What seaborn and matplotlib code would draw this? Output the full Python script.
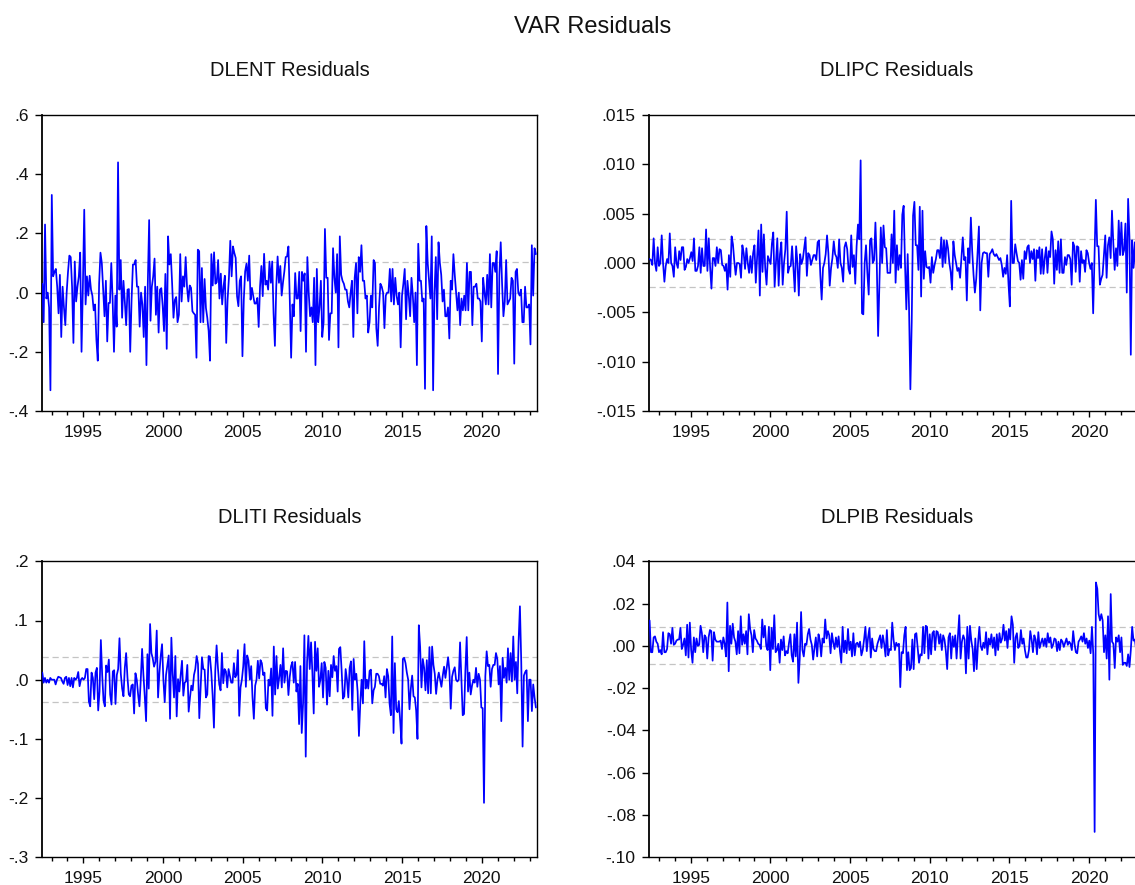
import numpy as np
import pandas as pd
import matplotlib
matplotlib.use("Agg")
import matplotlib.pyplot as plt
from matplotlib.ticker import FixedLocator, FuncFormatter
import seaborn as sns

# ---------------- data ----------------
TITLE = "VAR Residuals"
NAMES = ["DLENT", "DLIPC", "DLITI", "DLPIB"]

# monthly residuals, sample starting 1992M06
SAMPLE_START = 1992.42
END_FULL = 2023.40      # last observation shown in the left panels
END_VISIBLE = 2022.96   # right panels are cut by the picture edge

dlent = [
    0.03, -0.10, 0.23, -0.02, 0.00, -0.05, -0.33, 0.33, 0.055, 0.07, 0.08,
    0.02, -0.07, 0.06, -0.15, 0.02, -0.05, -0.11, 0.00, 0.07, 0.125,
    0.12, 0.02, -0.17, 0.105, -0.03, 0.02, 0.055, 0.135, -0.20, 0.02,
    0.28, -0.04, 0.055, -0.01, 0.057, 0.01, -0.01, -0.06, -0.04, -0.16,
    -0.23, 0.03, 0.135, 0.10, 0.01, -0.08, 0.04, -0.165, -0.035, -0.035,
    0.10, -0.025, -0.20, -0.01, -0.115, 0.44, 0.01, 0.11, -0.085, 0.04,
    -0.03, -0.11, 0.01, 0.012, -0.20, -0.025, 0.095, 0.095, 0.11, 0.02,
    0.02, -0.115, 0.00, -0.04, -0.15, 0.02, -0.245, 0.03, 0.245, -0.095,
    0.02, 0.055, 0.115, -0.075, 0.02, -0.135, 0.01, 0.015, -0.045, -0.13,
    0.063, -0.19, 0.19, 0.095,
    0.13, 0.03, -0.085, -0.025, -0.015, -0.10, -0.075, 0.13, -0.03, 0.055,
    0.02, 0.12, 0.02, -0.03, 0.024, 0.016, -0.063, -0.07, -0.075, -0.22,
    0.145, 0.14, -0.10, 0.083, -0.10, 0.046, -0.052, -0.085, -0.13, -0.23,
    0.13, 0.024, 0.136, 0.03, 0.035, 0.11, -0.02, 0.064, -0.04, 0.02,
    0.057, -0.17, -0.025, 0.05, 0.175, 0.055, 0.156, 0.134, 0.117, -0.012,
    -0.046, 0.04, 0.055, -0.215, -0.024, 0.072, 0.098, 0.04, 0.125, -0.024,
    0.016, -0.012, -0.037, -0.037, -0.018, -0.116, 0.02, 0.09, -0.012, 0.131,
    0.027, 0.04, 0.01, 0.105, 0.033, 0.105, -0.07, -0.18, 0.021, 0.122,
    0.033, 0.09, -0.01, 0.035, 0.072, 0.12, 0.122, 0.156, -0.024, -0.22,
    -0.04, -0.08, 0.066,
    -0.02, -0.02, 0.07, -0.13, 0.07, 0.04, 0.065,
    -0.20, 0.12, 0.00, -0.08, -0.05, -0.10, 0.05, -0.245, 0.08, -0.10,
    -0.05, 0.04, -0.15, -0.10, 0.215, 0.05, 0.05, -0.16, -0.07, -0.07,
    0.15, 0.05, 0.00, 0.13, -0.185, 0.19, 0.06, 0.04, 0.03, 0.01,
    0.01, -0.03, -0.05, 0.00, 0.04, -0.15, 0.05, 0.10, -0.07, 0.12,
    0.07, 0.16, 0.04, 0.04, -0.02, -0.01, -0.135, -0.10, -0.01, -0.05,
    0.11, 0.10, -0.12, -0.18, -0.05, 0.03, 0.02, 0.00, -0.12, -0.01,
    0.00, 0.00, 0.08, -0.03, 0.08, -0.04, 0.05, -0.01, -0.04, 0.00,
    -0.185, -0.01, 0.03, 0.08, -0.09, 0.04, -0.01, -0.08, 0.05, -0.01,
    -0.10, 0.00, -0.245, 0.165, 0.04, 0.04, -0.03, -0.02, -0.325, 0.225,
    0.10, 0.04, -0.02, 0.19, -0.33, 0.00, 0.12, -0.09, 0.17, 0.10,
    0.06, -0.03, 0.01, -0.08, -0.08, -0.05, -0.155, 0.04, 0.01, 0.13,
    0.06, 0.00, -0.06, 0.00, -0.11, -0.02, -0.06, -0.01, -0.06, 0.10,
    -0.06, 0.07, 0.07, -0.11, 0.02, 0.02, 0.03, -0.02, -0.02, -0.03,
    -0.165, 0.05, 0.00, -0.04, 0.06, -0.04, 0.13, -0.05, 0.10, 0.10,
    0.07, 0.14, -0.275, 0.06, 0.17, 0.03, -0.08, -0.03, 0.11, -0.04,
    -0.03, -0.02, 0.05, 0.04, -0.24, 0.07, 0.08, 0.00, -0.01, 0.01,
    -0.10, -0.10, 0.02, -0.05, -0.05, -0.04, -0.175, 0.16, -0.01, 0.15,
    0.13,
]

# DLIPC in thousandths
dlipc_milli = [
    0.4, 0.3, -0.2, 2.5, 0.0, -0.8, 1.6, -0.3, 0.0, 2.8,
    0.0, -1.9, -0.3, 0.4, 0.0, 3.0, 0.0, -0.3, -1.4, 1.6,
    0.0, -0.5, 1.2, 0.3, 1.6, 1.6, -0.7, -0.4, 0.4, 0.0,
    0.5, 1.1, 0.2, 2.5, -0.8, -0.8, -0.3, 1.6, -1.0, 1.5,
    -0.3, -0.3, 3.4, -0.8, 2.5, -0.4, -2.6, 0.5, 0.5, -0.3,
    1.6, 0.0, 1.4, 1.3, -0.2, -0.3, -0.8, -0.1, -2.7, 0.8,
    -1.4, 2.7, 1.9, 0.2, -1.2, 0.0, 0.0, -0.1, -1.5, 1.8,
    1.0, -0.6, 1.5, 0.0, -1.0, 0.7, -1.0, 1.0, 1.8, -2.0,
    0.6, 3.3, -3.3, 3.9, -0.9, 2.9, -0.5, -2.2, 0.7, 0.3,
    -0.1, 2.0, 3.1, -2.4, 0.0, 2.5, -2.3, 0.9, 2.1, -2.2,
    0.0, 1.4, 5.2, -1.0, -0.4, -0.3, 1.7, -0.5, -2.9, 1.7,
    0.0, -3.3, 0.9, -0.1, 0.4, 1.5, 2.6, -1.3, 1.0, 0.8,
    -0.2, 0.3, 0.8, 0.8, 0.3, 2.1, 2.3, -1.2, -3.7, -0.5,
    0.0, 0.9, 2.8, 1.0, -2.3, -0.5, 0.5, 2.2, 0.9, 0.6,
    -0.5, 2.4, 0.0, -0.5, -1.9, 1.6, 2.1, 1.4, -0.6, -1.1,
    2.8, -0.4, 0.8, -2.1, 1.7, 3.9, 2.4, 10.4, -5.1, -5.2,
    0.0, 1.8, -1.0, -3.2, 2.3, 2.5, 0.0, 0.3, 4.1, 0.0,
    -7.4, -2.0, 3.6,
    0.0, 3.8, 1.6, 1.5, -1.0, -1.0, -1.0, 2.9, 0.0, 5.3,
    -2.0, 1.8, -0.7, 0.8, -0.5, 4.9, 5.8, 0.0, -4.7, 0.9,
    -4.5, -12.8, -6.0, 4.8, 6.2, 1.8, 1.8, -0.7, 5.7, -3.4,
    5.3, -1.6, 1.2, -0.4, -0.5, -0.4, -2.0, 0.6, -1.0, -0.2,
    0.4, 1.3, 1.3, 0.5, 2.6, -0.4, 2.3, 0.0, 2.3, 1.5,
    0.0, -0.9, -2.7, 2.2, 0.8, 0.0, -0.8, -0.5, -1.5, 0.5,
    2.6, 0.3, 0.6, -3.8, 1.5, 0.0, 4.6, 1.2, -1.2, -3.0,
    -1.6, 1.0, 3.7, -4.8, 0.0, 1.0, 1.1, 1.0, 1.0, -1.4,
    0.9, 1.1, 1.4, 0.9, 0.7, 0.9, 0.6, 0.3, 0.5, -0.2,
    -1.4, -0.5, -1.1, 0.8, -2.1, -4.4, 6.3, 0.0, 0.0, 1.9,
    1.0, 0.2, 0.0, -1.7, 0.3, -1.6, 1.2, 0.4, 1.6, 1.8,
    0.0, 1.2, 0.4, 1.4, -1.8, 1.3, 0.5, 1.6, -1.1, 1.4,
    -1.1, 0.5, 1.6, -1.0, 1.2, 0.6, 3.2, 2.4, -2.1, 1.3,
    -0.7, 2.2, -1.0, 2.4, -1.0, -1.0, 0.6, -0.2, 0.8, 0.8,
    0.4, -2.2, 2.1, 1.7, -0.9, 1.7, 1.6, -1.9, 1.2, 0.0,
    0.3, -0.9, 1.3, 1.0, 0.0, -0.6, 0.0, -5.1, 0.5, 6.4,
    1.7, 1.7, -2.2, -1.6, -1.2, 0.8, 2.8, -1.5, 1.8, 2.6,
    0.5, 5.3, 2.0, -0.7, 1.5, -0.3, 4.3, 0.8, 4.1, 0.8,
    1.3, 4.0, -3.0, 6.5, 2.6, -9.3, 2.3, -0.5, 2.1, -1.4,
]

# DLITI in hundredths
dliti_centi = [
    1.2, -0.5, 0.3, -0.5, 0.0, -0.5, 0.3, 0.0, 0.0, 0.0,
    -0.8, 0.0, 0.5, 0.4, 0.3, -0.3, -0.7, 0.3, 0.5, -0.9,
    0.3, -1.1, 0.3, -1.3, 0.3, 0.0, 0.3, 1.3, -1.1, 0.0,
    0.3, 0.0, 0.3, 1.8, 1.8, -3.7, -4.5, 1.2, 0.3, -3.3,
    1.2, 2.0, -5.2, -2.0, 6.7, 0.8, -3.5, -4.5, 2.4, 1.3,
    3.4, -2.5, -4.2, 1.4, 1.6, -4.1, 0.8, 1.8, 7.0, 1.0,
    -1.5, -2.8, 2.0, 4.5, 0.4, -2.5, -2.8, -1.0, -0.8, -5.7,
    1.1, 0.0, -2.5, -4.5, 0.0, 5.2, 0.8, -2.8, -7.0, 4.3,
    -1.5, 9.4, 4.5, 3.6, 2.2, 3.0, 8.3, -3.0, 1.1, 4.0,
    6.0, 0.0, -3.8, 0.8, 2.4, 4.1, -6.6, 7.1, 1.0, -3.0,
    4.0, -6.2, 0.1, -2.0, 0.8, 3.2, -2.7, -0.5, -0.3, 2.5,
    -5.4, -3.0, -1.0, -1.8, 0.8, 1.8, 4.0, 2.7, -6.5, -1.2,
    3.8, 1.8, 1.7, -3.0, -2.5, 4.0, 3.9, 1.3, -2.6, -8.1,
    1.5, 5.8, 2.0, -0.8, -1.8, 4.5, -0.6, 1.8, 1.4, -1.3,
    1.8, 0.6, -0.5, -0.5, 2.8, 0.4, 0.8, 5.0, -6.1, -1.3,
    0.0, 2.2, 6.0, -1.2, 4.1, 3.2, 0.0, 2.3, -3.0, -6.6,
    -1.0, 0.0, 3.2, 0.2, 3.3, 2.8, 0.8, 1.2, -4.8, -5.2,
    0.0, -1.0, 1.9, -6.1, 5.6, -2.5, 4.0, -1.5, 0.3, 2.5,
    -1.3, 5.3, -0.5, 1.5, 1.4, -2.6,
    0.5, 2.3, 3.0, -0.5, 3.0, -2.0, -0.7, -7.5, 2.3, -9.0,
    -4.0, 7.5, -13.0, 3.0, 7.4, 1.8, 6.3, 1.2, -5.7, 6.4,
    1.5, 5.3, -1.2, 0.0, 2.8, -3.0, 3.0, 2.0, -4.2, 1.5,
    -2.8, 2.5, 0.4, 4.0, 1.5, 2.3, -2.0, 5.2, 5.5, 1.5,
    -3.2, -2.8, 1.8, 0.0, -3.0, 2.0, 3.1, -5.1, 3.5, 0.0,
    1.0, -2.0, -9.5, -4.0, 0.0, -4.0, 6.5, -1.5, 0.0, -1.5,
    1.5, 1.7, -4.0, -1.8, -1.2, 1.0, 1.0, 0.6, -0.7, -0.7,
    -1.0, 0.6, -3.0, 1.8, 0.6, -4.0, -6.0, 7.3, -9.0, 2.8,
    -5.0, -5.5, -3.6, -7.0, -10.8, 3.5, 3.7, 2.8, 1.2, 0.0,
    -5.0, -1.5, 0.7, -2.8, -3.0, -5.2, -10.0, 9.2, 5.5, -1.3,
    3.5, 2.0, -1.8, 3.3, -2.3, 5.5, -2.3, 5.6, 2.5, 1.0,
    -2.4, 0.0, 1.2, 0.0, -1.2, 0.7, 2.2, 0.3, 2.0, 3.8,
    1.5, -4.9, 0.5, 1.5, 2.1, 0.0, -0.3, 0.0, 6.3, 0.0,
    -6.0, -5.8, 1.5, 7.2, -2.0, 1.2, -2.5, -1.0, 0.0, -0.5,
    2.0, -1.2, 1.0, 0.0, -4.7, -4.8, -20.8, 0.6, 4.8, 2.3,
    2.5, -1.2, 1.8, 2.5, 2.5, 4.5, 3.5, -0.8, 2.3, -7.0,
    3.7, 0.3, 2.0, -0.5, 5.3, 0.0, 4.5, -0.3, 7.3, 0.0,
    3.0, -2.3, 6.5, 12.4, 3.0, -11.3, 0.7, 1.3, 1.6, -7.0,
    0.0, 0.0, -5.3, -0.8, -3.0, -4.7,
]

# DLPIB in thousandths
dlpib_milli = [
    12.0, -3.0, -3.0, 4.0, 4.5, 2.0, 1.0, -3.0, -2.0, -4.0,
    6.5, -3.0, -3.0, -1.5, 6.0, 5.5, 1.0, 8.5, 0.5, 1.0,
    2.5, 3.0, 3.0, 8.5, -1.5, 0.5, 3.5, -4.5, 10.0, -5.5,
    11.0, -2.0, -8.0, 4.0, -3.0, 3.5, 0.0, 0.5, 9.5, 6.0,
    -3.0, 5.0, 4.0, -6.0, 4.0, 7.5, 7.0, -7.0, 6.5, 3.0,
    2.0, 2.0, 2.0, 2.5, -1.5, 4.0, 1.0, -5.0, 20.5, -12.0,
    9.5, 1.0, 10.5, 4.0, 2.0, -4.0, 7.0, -3.5, 14.0, 0.5,
    5.5, 1.0, 7.0, -4.0, 15.0, 8.0, 5.0, -3.0, 7.5, 3.5,
    2.5, 1.0, 0.5, -1.5, 12.5, 4.0, 9.5, 0.0, -2.0, 9.0,
    -11.5, 8.5, -1.5, 14.5, -3.0, -2.0, 1.0, -8.0, 3.0, -2.0,
    4.5, -4.5, -2.5, -3.5, 1.5, 5.5, -4.5, -7.5, 5.5, -5.0,
    11.0, -17.5, -6.0, 16.0, -2.0, -5.0, 1.0, 0.5, 5.5, 8.0,
    3.0, 0.5, -6.5, -1.0, 4.0, -5.0, 5.5, 2.5, -5.0, 3.5,
    1.5, 12.5, 3.5, 7.0, 5.0, -3.5, 6.0, 1.5, -1.5, 4.0,
    -0.5, 4.5, -2.5, -8.0, 9.0, -3.0, 2.5, -3.5, 8.0, -2.0,
    2.0, -5.0, 6.0, -4.5, 1.0, 1.5, -0.5, 2.0, -4.5, -2.0,
    3.0, 9.0, -2.5, 4.0, 8.5, -5.5, 3.5, -1.5, -2.5, -2.5,
    1.0, 3.0, 5.0,
    -1.0, 5.0, 1.0, -5.0, 7.5, -4.5, -1.5, -2.0, 11.0, 3.0,
    -2.0, 1.5, 0.0, 1.0, -19.5, -3.0, -3.5, 5.0, 9.0, -11.5,
    -3.0, -11.5, -10.5, 3.0, -11.0, 5.5, 6.0, -1.0, -8.0, -4.0,
    -4.5, 9.0, -3.5, 9.5, 9.0, -6.0, 5.5, -4.0, 6.0, 7.0,
    -2.0, 7.0, 6.5, 1.0, 5.5, -2.0, 5.0, 3.0, -2.5, -11.0,
    4.0, 6.0, -6.0, 4.5, -0.5, 5.0, -6.0, 4.5, 14.5, -6.0,
    2.0, 5.0, 3.0, -13.0, 9.0, -6.0, 9.5, 2.5, -1.5, -12.0,
    3.5, -11.0, 1.0, 9.0, 0.0, -2.0, 1.5, -1.0, 6.5, -4.0,
    3.5, 0.5, 5.5, -1.0, 4.0, -4.5, 5.5, -2.0, 6.0, 1.5,
    3.5, 10.0, 2.5, 7.0, -1.0, 8.0, 3.0, 14.0, 10.0, -8.0,
    4.0, 6.0, -1.0, 0.0, 7.5, 1.0, 3.5, -2.0, -5.5, -5.5,
    -2.0, 7.0, 3.0, -3.0, 5.0, 3.0, -4.0, 6.5, -1.0, 1.5,
    3.5, 0.0, 3.5, -0.5, 6.0, 1.5, 4.0, -1.0, 0.5, 3.5,
    3.0, -2.5, 2.0, -2.0, 3.0, 2.0, -0.5, 1.5, 3.5, 0.5,
    2.0, 1.0, -2.0, 7.0, 1.0, -3.0, -3.5, 2.0, 3.0, 4.5,
    2.0, 6.0, 1.0, 3.5, -1.0, 2.5, -3.5, 9.0, -4.0, -88.0,
    30.0, 27.0, 15.0, 12.0, 15.0, 12.0, -3.0, 5.0, -6.0, 14.0,
    -16.0, 24.5, 2.0, 1.0, -10.5, 4.0, 2.0, 5.0, -3.0, 4.0,
    -9.0, -8.0, -8.0, -9.5, -4.0, -10.0, -2.0, 9.0, 2.5, 3.0,
    -2.0,
]

# +/- one standard error bands (dashed lines)
SE = [0.105, 0.0024, 0.038, 0.0088]

# y-axis ranges / ticks and decimals of tick labels
Y_TICKS = [
    [-0.4, -0.2, 0.0, 0.2, 0.4, 0.6],
    [-0.015, -0.010, -0.005, 0.0, 0.005, 0.010, 0.015],
    [-0.3, -0.2, -0.1, 0.0, 0.1, 0.2],
    [-0.10, -0.08, -0.06, -0.04, -0.02, 0.0, 0.02, 0.04],
]
Y_DEC = [1, 3, 1, 2]
X_LABEL_YEARS = [1995, 2000, 2005, 2010, 2015, 2020]
X_MINOR_YEARS = list(range(1993, 2024))

series = [
    np.array(dlent),
    np.array(dlipc_milli) / 1000.0,
    np.array(dliti_centi) / 100.0,
    np.array(dlpib_milli) / 1000.0,
]
ends = [END_FULL, END_VISIBLE, END_FULL, END_VISIBLE]

# ---------------- styling ----------------
sns.set_style("white")
plt.rcParams["font.family"] = ["Liberation Sans", "DejaVu Sans"]
plt.rcParams["axes.linewidth"] = 1.0

BLUE = "#0000FF"

fig = plt.figure(figsize=(11.35, 8.85), dpi=100)

W = 495 / 1135
H_TOP = 296 / 885
positions = [
    [42 / 1135, 1 - 411 / 885, W, H_TOP],
    [649.3 / 1135, 1 - 411 / 885, W, H_TOP],
    [42 / 1135, 1 - 857.3 / 885, W, H_TOP],
    [649.3 / 1135, 1 - 857.3 / 885, W, H_TOP],
]


def make_fmt(dec):
    def f(v, pos):
        if abs(v) < 1e-12:
            v = 0.0
        s = f"{v:.{dec}f}"
        return s.replace("0.", ".", 1)
    return FuncFormatter(f)


for k in range(4):
    ax = fig.add_axes(positions[k])
    vals = series[k]
    years = np.linspace(SAMPLE_START, ends[k], len(vals))
    df = pd.DataFrame({"year": years, "resid": vals})

    # reference lines: zero and +/- one standard error
    ax.axhline(0.0, color="#CDCDCD", lw=1.0, zorder=1)
    for sgn in (1, -1):
        ax.axhline(sgn * SE[k], color="#C4C4C4", lw=0.9, ls=(0, (5, 3)), zorder=1)

    sns.lineplot(data=df, x="year", y="resid", ax=ax, color=BLUE, linewidth=1.25,
                 estimator=None, sort=False, zorder=3)

    ax.set_xlim(1992.40, 2023.47)
    yt = Y_TICKS[k]
    ax.set_ylim(yt[0], yt[-1])
    ax.yaxis.set_major_locator(FixedLocator(yt))
    ax.yaxis.set_major_formatter(make_fmt(Y_DEC[k]))

    ax.xaxis.set_major_locator(FixedLocator(X_LABEL_YEARS))
    ax.xaxis.set_minor_locator(FixedLocator([y for y in X_MINOR_YEARS if y not in X_LABEL_YEARS]))
    ax.set_xticklabels([str(y) for y in X_LABEL_YEARS])

    ax.tick_params(axis="both", which="both", direction="out", width=1.0,
                   color="black", labelsize=12.5, labelcolor="#111111")
    ax.tick_params(axis="x", which="major", length=4.4, pad=5.6)
    ax.tick_params(axis="x", which="minor", length=2.8)
    ax.tick_params(axis="x", which="both", bottom=True, top=False)
    ax.tick_params(axis="y", which="major", length=4.8, pad=5.0, left=True, right=False)

    ax.set_xlabel("")
    ax.set_ylabel("")
    for sp in ax.spines.values():
        sp.set_visible(True)
        sp.set_color("black")
        sp.set_linewidth(1.0)
    ax.spines["left"].set_linewidth(1.3)

    ax.text(0.5, 1 + 44 / 296, f"{NAMES[k]} Residuals", transform=ax.transAxes,
            ha="center", va="center", fontsize=14.5, color="#111111")

fig.text(592.5 / 1135, 1 - 27 / 885, TITLE, ha="center", va="center",
         fontsize=17, color="#111111")

fig.savefig("out.png", dpi=100, facecolor="white")
